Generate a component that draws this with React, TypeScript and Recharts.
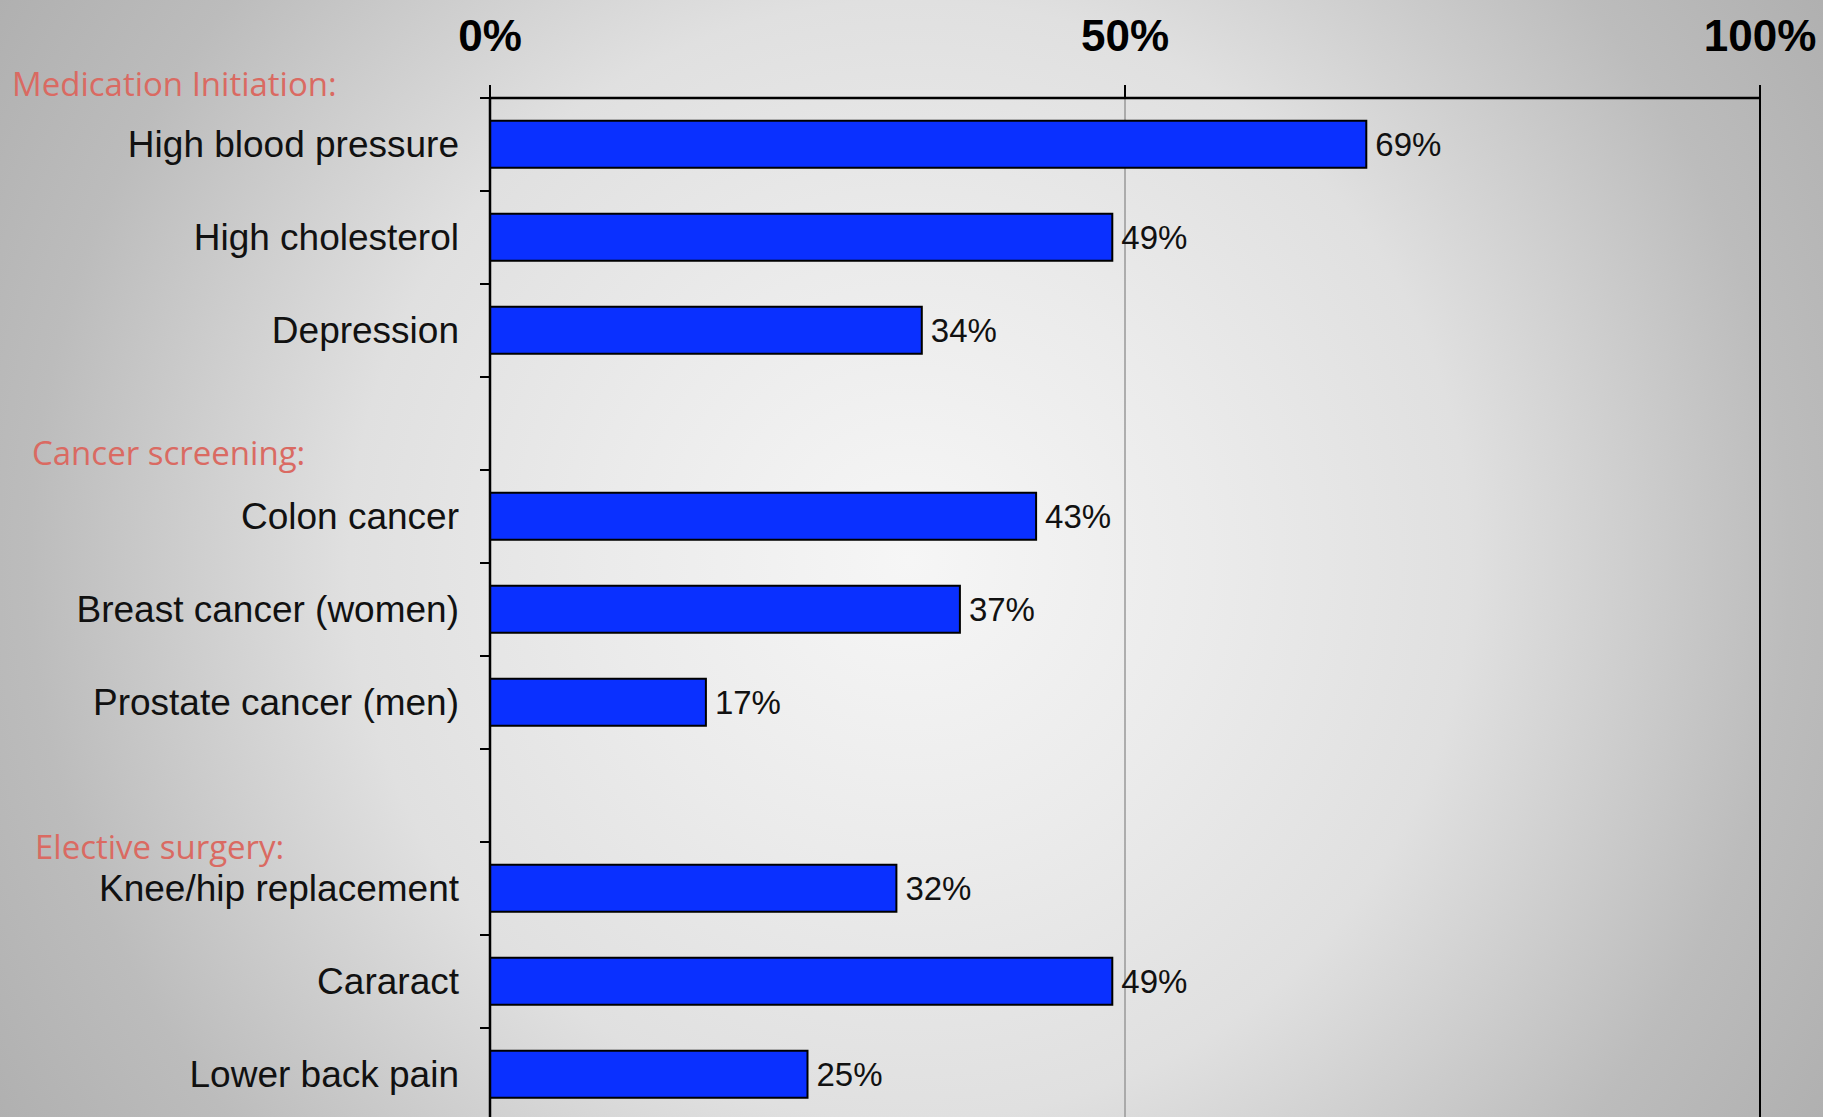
import React from 'react';
import { BarChart, Bar, XAxis, YAxis, CartesianGrid, ReferenceLine, LabelList } from 'recharts';

// ---- data ----
const categories = [
  'High blood pressure',
  'High cholesterol',
  'Depression',
  ' ',
  'Colon cancer',
  'Breast cancer (women)',
  'Prostate cancer (men)',
  '  ',
  'Knee/hip replacement',
  'Cararact',
  'Lower back pain',
];
const values: (number | null)[] = [69, 49, 34, null, 43, 37, 17, null, 32, 49, 25];
const xTicks = [0, 50, 100];
const groupHeaders = [
  { first: 'High blood pressure', label: 'Medication Initiation:' },
  { first: 'Colon cancer', label: 'Cancer screening:' },
  { first: 'Knee/hip replacement', label: 'Elective surgery:' },
];

// ---- layout ----
const W = 1823;
const H = 1131;
const TOP = 98;
const BOTTOM_MARGIN = 10;
const Y_AXIS_W = 490;
const RIGHT = 63;
const TICK_SIZE = 10;
const TICK_MARGIN = 21;
const BAND = (H - TOP - BOTTOM_MARGIN) / categories.length;
const groupLabelLayout: Record<string, { x: number; dy: number }> = {
  'Medication Initiation:': { x: 12, dy: -61 },
  'Cancer screening:': { x: 32, dy: -64 },
  'Elective surgery:': { x: 35, dy: -42 },
};

const data = categories.map((name, i) => ({ name, value: values[i] }));

const YTick = (props: any) => {
  const { x, y, payload } = props;
  const axisX = x + TICK_MARGIN + TICK_SIZE;
  const header = groupHeaders.find((g) => g.first === payload.value);
  const lay = header ? groupLabelLayout[header.label] : null;
  return (
    <g>
      <line x1={axisX - TICK_SIZE} x2={axisX} y1={y - BAND / 2} y2={y - BAND / 2} stroke="#000" strokeWidth={2} />
      <text
        x={x}
        y={y}
        textAnchor="end"
        dominantBaseline="central"
        fontFamily="'Liberation Sans', Arial, sans-serif"
        fontSize={37}
        fill="#111"
      >
        {payload.value}
      </text>
      {header && lay && (
        <text
          x={lay.x}
          y={y + lay.dy}
          textAnchor="start"
          dominantBaseline="central"
          fontFamily="'Open Sans', sans-serif"
          fontSize={33}
          fill="#DA6A62"
        >
          {header.label}
        </text>
      )}
    </g>
  );
};

const XTick = (props: any) => {
  const { x, payload } = props;
  return (
    <text
      x={x}
      y={35}
      textAnchor="middle"
      dominantBaseline="central"
      fontFamily="'Liberation Sans', Arial, sans-serif"
      fontWeight="bold"
      fontSize={44}
      fill="#000"
    >
      {payload.value}%
    </text>
  );
};

export default function App() {
  return (
    <div
      style={{
        position: 'absolute',
        left: 0,
        top: 0,
        width: W,
        height: 1117,
        overflow: 'hidden',
        background:
          'radial-gradient(circle at 910px 560px, #f6f6f6 0px, #ebebeb 300px, #e0e0e0 560px, #bcbcbc 880px, #b0b0b0 1070px)',
      }}
    >
      <BarChart
        width={W}
        height={H}
        data={data}
        layout="vertical"
        margin={{ top: 0, right: RIGHT, bottom: BOTTOM_MARGIN, left: 0 }}
        barCategoryGap="24.5%"
      >
        <CartesianGrid horizontal={false} stroke="#999" strokeWidth={1.5} />
        <XAxis
          type="number"
          orientation="top"
          domain={[0, 100]}
          ticks={xTicks}
          height={TOP}
          tick={<XTick />}
          tickSize={13}
          axisLine={{ stroke: '#000', strokeWidth: 2.5 }}
          tickLine={{ stroke: '#000', strokeWidth: 2 }}
        />
        <YAxis
          type="category"
          dataKey="name"
          width={Y_AXIS_W}
          tick={<YTick />}
          tickLine={false}
          tickSize={TICK_SIZE}
          tickMargin={TICK_MARGIN}
          interval={0}
          axisLine={{ stroke: '#000', strokeWidth: 2.5 }}
        />
        <ReferenceLine x={100} stroke="#000" strokeWidth={2} />
        <Bar dataKey="value" fill="#0A30FF" stroke="#000" strokeWidth={2} isAnimationActive={false}>
          <LabelList
            dataKey="value"
            position="right"
            offset={9}
            formatter={(v: any) => (v == null ? '' : `${v}%`)}
            style={{ fontFamily: "'Liberation Sans', Arial, sans-serif", fontSize: 33, fill: '#111' }}
          />
        </Bar>
      </BarChart>
    </div>
  );
}
